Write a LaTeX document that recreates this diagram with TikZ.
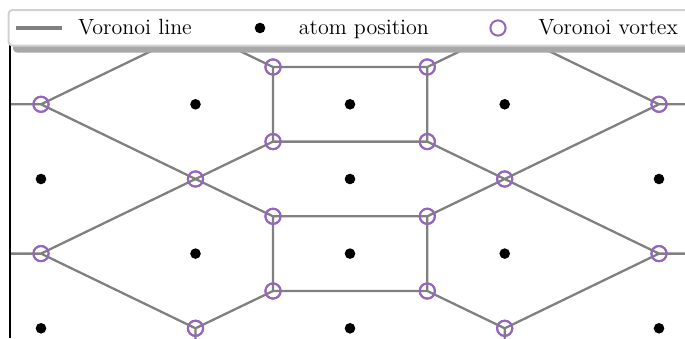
\documentclass[tikz,border=0pt]{standalone}
\definecolor{vpurple}{HTML}{9467BD}
\begin{document}
\begin{tikzpicture}[x=0.5pt,y=-0.5pt,
  ridge/.style={draw=gray, line width=1.15pt},
  atom/.style={circle, fill=black, inner sep=0pt, minimum size=5.3pt},
  vtx/.style={circle, draw=vpurple, line width=1pt, inner sep=0pt, minimum size=7.6pt},
  legtext/.style={anchor=base west, inner sep=0pt, font=\fontsize{11}{13}\selectfont},
]
\useasboundingbox (0,0) rectangle (685,338);
\clip (0,0) rectangle (685,338);

% atom positions
\foreach \x/\y [count=\i] in {41/179, 41/328.3,
    195.5/104.3, 195.5/253.6,
    350/104.3, 350/179, 350/253.6, 350/328.3,
    504.7/104.3, 504.7/253.6,
    659/179, 659/328.3}
  \node[atom] (at\i) at (\x,\y) {};

% Voronoi vertices (those hidden under the legend are plain coordinates)
\node[vtx] (a1) at (41,104.3) {};
\node[vtx] (a3) at (41,253.6) {};
\coordinate (b0) at (195.5,29.6);
\node[vtx] (b2) at (195.5,179) {};
\node[vtx] (b4) at (195.5,328.3) {};
\node[vtx] (p1) at (273,67) {};
\node[vtx] (p2) at (273,141.6) {};
\node[vtx] (p3) at (273,216.3) {};
\node[vtx] (p4) at (273,291) {};
\node[vtx] (q1) at (427.3,67) {};
\node[vtx] (q2) at (427.3,141.6) {};
\node[vtx] (q3) at (427.3,216.3) {};
\node[vtx] (q4) at (427.3,291) {};
\coordinate (d0) at (504.7,29.6);
\node[vtx] (d2) at (504.7,179) {};
\node[vtx] (d4) at (504.7,328.3) {};
\node[vtx] (e1) at (659,104.3) {};
\node[vtx] (e3) at (659,253.6) {};

% free ends of the open ridges
\coordinate (la1) at (0,104.3);
\coordinate (la3) at (0,253.6);
\coordinate (re1) at (685,104.3);
\coordinate (re3) at (685,253.6);
\coordinate (bb4) at (195.5,345);
\coordinate (bd4) at (504.7,345);

% Voronoi ridges, clipped to the axis area
\begin{scope}
  \clip (10,0) rectangle (685,338);
  \draw[ridge] (la1) -- (a1.center) (la3) -- (a3.center)
    (re1) -- (e1.center) (re3) -- (e3.center)
    (a1.center) -- (b0) (a1.center) -- (b2.center)
    (a3.center) -- (b2.center) (a3.center) -- (b4.center)
    (b4.center) -- (bb4) (d4.center) -- (bd4)
    (b0) -- (p1.center) (b2.center) -- (p2.center)
    (b2.center) -- (p3.center) (b4.center) -- (p4.center)
    (p1.center) -- (p2.center) (p3.center) -- (p4.center)
    (q1.center) -- (q2.center) (q3.center) -- (q4.center)
    (p1.center) -- (q1.center) (p2.center) -- (q2.center)
    (p3.center) -- (q3.center) (p4.center) -- (q4.center)
    (q1.center) -- (d0) (q2.center) -- (d2.center)
    (q3.center) -- (d2.center) (q4.center) -- (d4.center)
    (d0) -- (e1.center) (d2.center) -- (e1.center)
    (d2.center) -- (e3.center) (d4.center) -- (e3.center);
\end{scope}

% redraw vertex markers above the ridges
\foreach \v in {a1,a3,b2,b4,p1,p2,p3,p4,q1,q2,q3,q4,d2,d4,e1,e3}
  \draw[vpurple, line width=1pt] (\v.center) circle[radius=3.8pt];

% left axis
\coordinate (axtop) at (10,45);
\coordinate (axbot) at (10,338);
\draw[black, line width=0.8pt] (axtop) -- (axbot);

% legend with its shadow
\fill[gray!68, rounded corners=2pt] (13,16) rectangle (720,52.5);
\draw[gray!35, fill=white, line width=1pt, rounded corners=2pt] (8.5,10) rectangle (715,45.5);
\coordinate (ls) at (16,28);
\coordinate (le) at (62,28);
\draw[gray, line width=1.6pt] (ls) -- (le);
\node[legtext] (t1) at (77.7,34.3) {Voronoi line};
\node[atom] (ldot) at (260,28) {};
\node[legtext] (t2) at (298.5,34.3) {atom position};
\node[vtx] (lvtx) at (498,28) {};
\node[legtext] (t3) at (538,34.3) {Voronoi vortex};
\end{tikzpicture}
\end{document}
